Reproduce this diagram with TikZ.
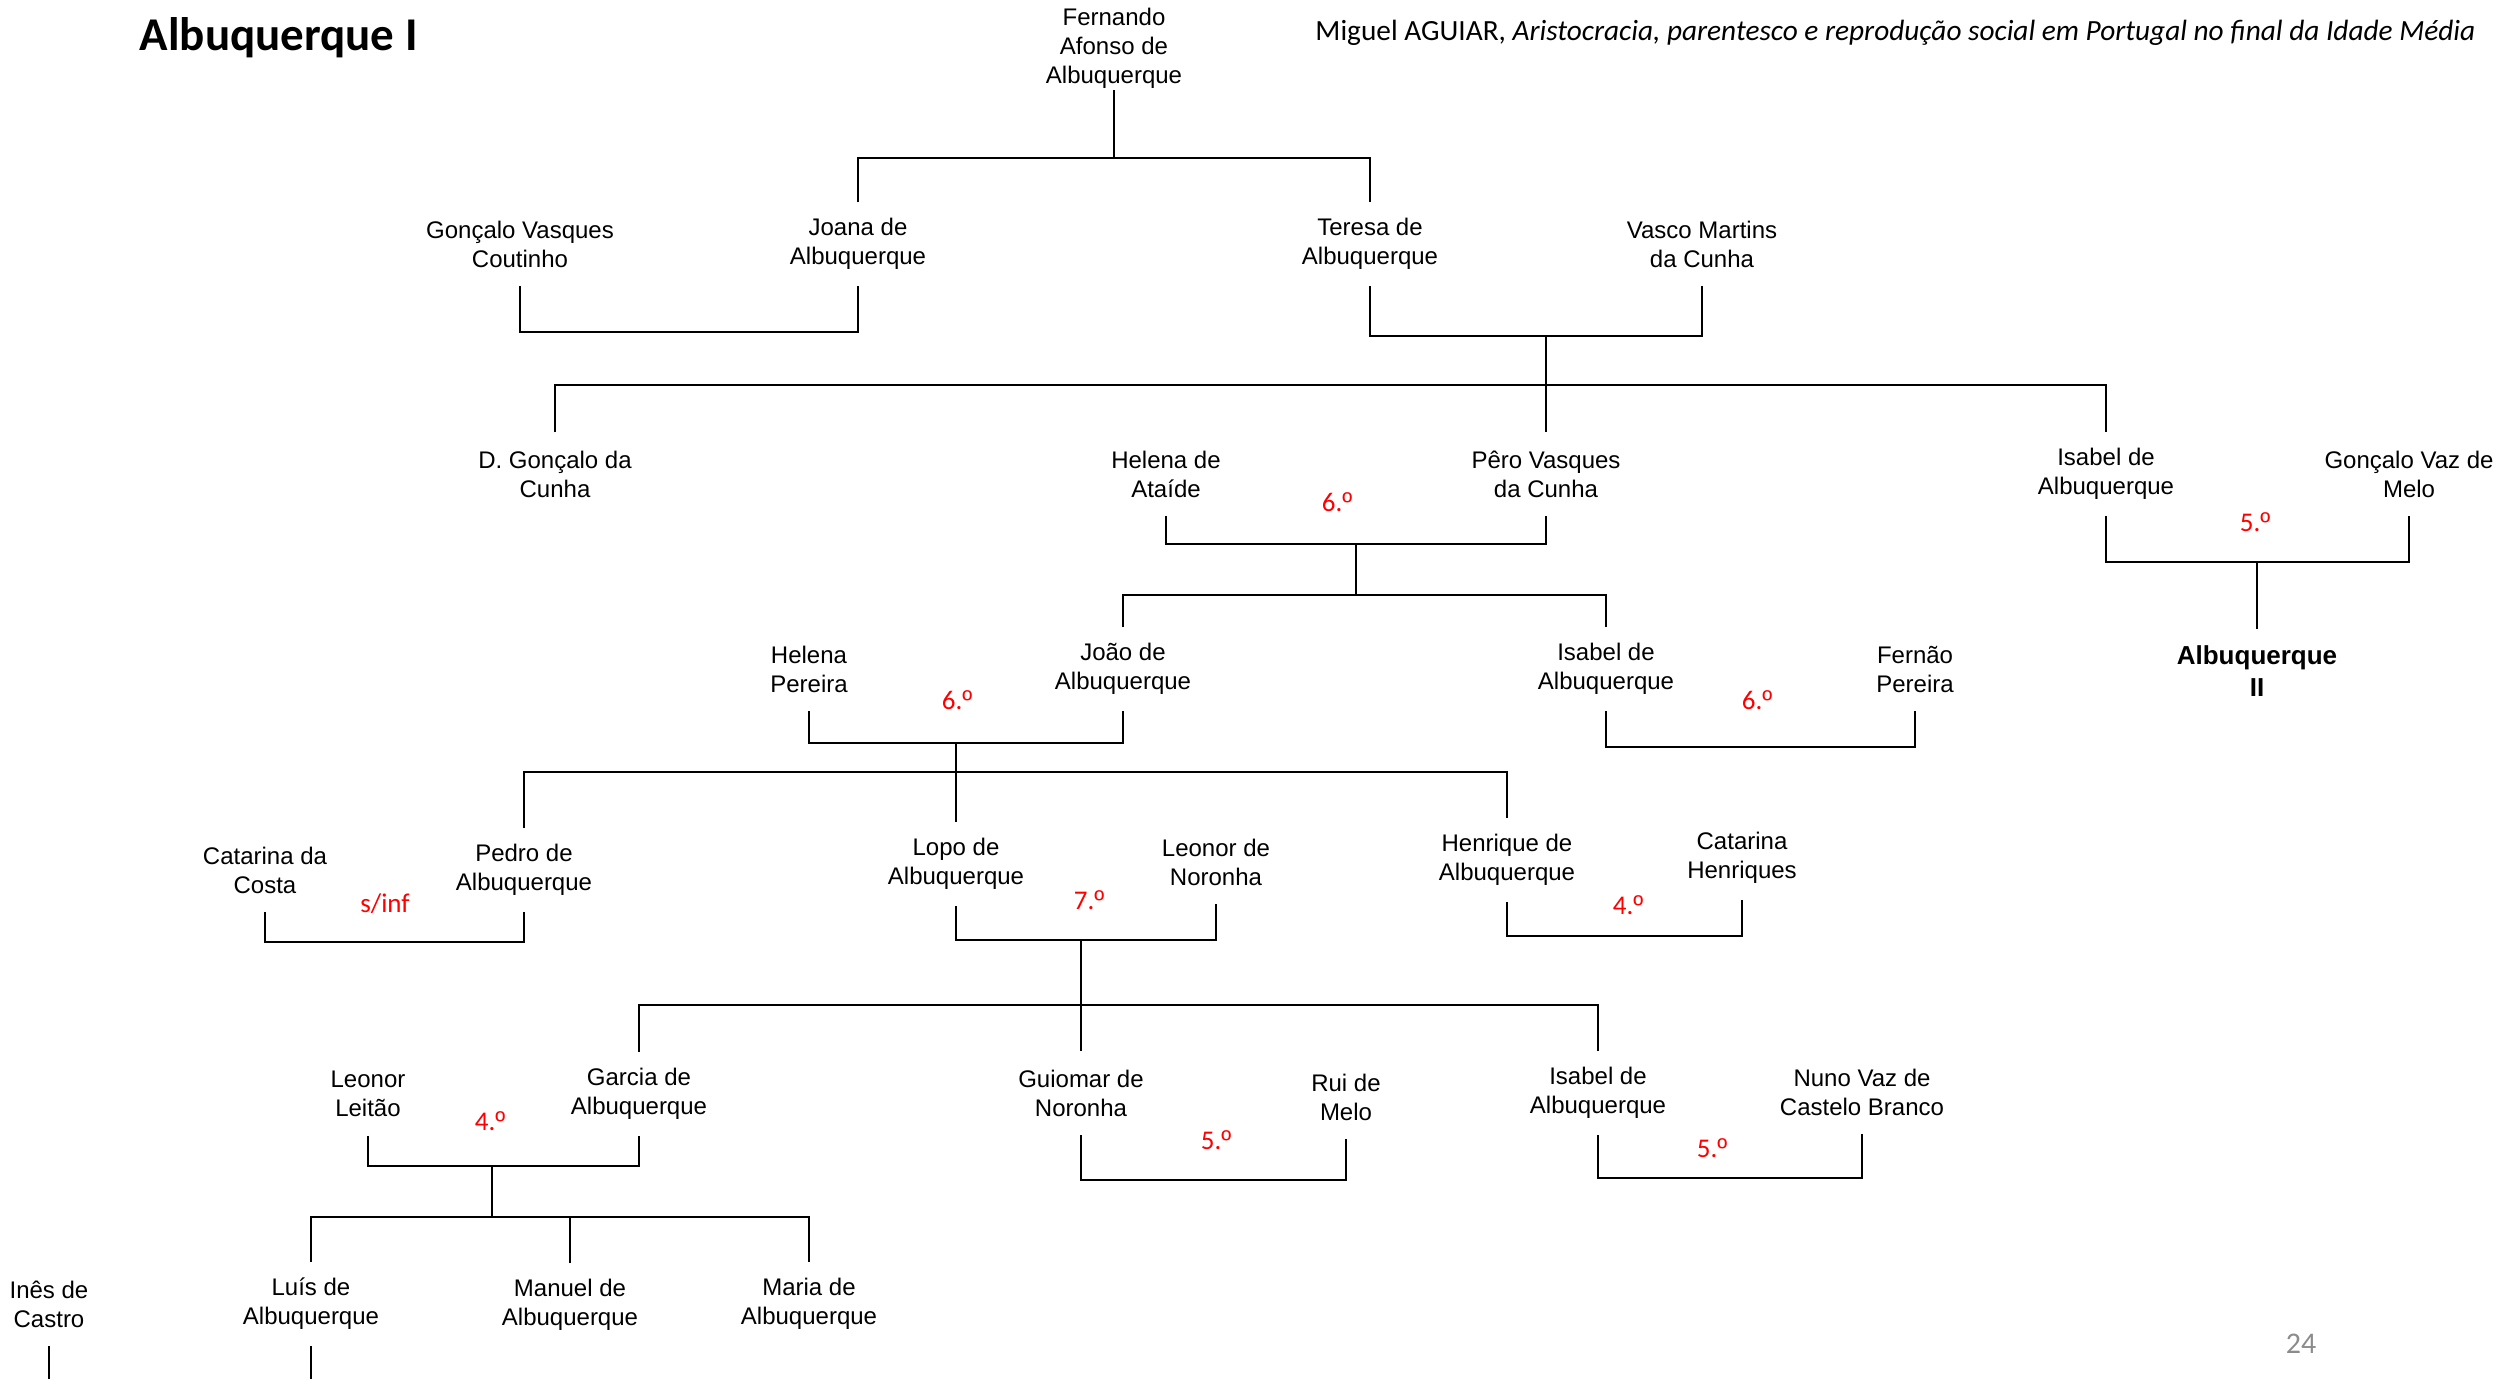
\documentclass[tikz,border=0pt]{standalone}
\usepackage{fontspec}
\setmainfont{Liberation Sans}
\newfontfamily\calibri{Carlito}
\newcommand\rankord{{\rmfamily º}}
\definecolor{pagegray}{RGB}{140,140,140}
\tikzset{
  person/.style={align=center,inner sep=0pt,minimum height=82pt,font=\fontsize{24}{29}\selectfont},
  rank/.style={inner sep=0pt,text=red,font=\calibri\fontsize{27}{32}\selectfont},
}
\begin{document}
\begin{tikzpicture}[x=1pt,y=-1pt,line width=1.5pt]
  \useasboundingbox (0,0) rectangle (2506,1379);
  \node[anchor=base west,inner sep=0pt,font=\calibri\bfseries\fontsize{47}{56}\selectfont] (title) at (139,50) {Albuquerque I};
  \node[anchor=base east,inner sep=0pt,font=\calibri\fontsize{29.3}{35}\selectfont] (source) at (2476,40) {Miguel AGUIAR, \textit{Aristocracia, parentesco e reprodução social em Portugal no final da Idade Média}};
  \node[inner sep=0pt,text=pagegray,font=\calibri\fontsize{30}{36}\selectfont] (page) at (2301,1344) {24};
  % generation 0 and 1
  \node[person] (fernando) at (1114,48) {Fernando\\Afonso de\\Albuquerque};
  \node[person] (goncalovc) at (520,244) {Gonçalo Vasques\\Coutinho};
  \node[person] (joana) at (858,244) {Joana de\\Albuquerque};
  \node[person] (teresa) at (1370,244) {Teresa de\\Albuquerque};
  \node[person] (vasco) at (1702,244) {Vasco Martins\\da Cunha};
  % generation 2
  \node[person] (dgoncalo) at (555,474) {D. Gonçalo da\\Cunha};
  \node[person] (helenaat) at (1166,474) {Helena de\\Ataíde};
  \node[person] (pero) at (1546,474) {Pêro Vasques\\da Cunha};
  \node[person] (isabelA) at (2106,474) {Isabel de\\Albuquerque};
  \node[person] (goncalovm) at (2409,474) {Gonçalo Vaz de\\Melo};
  % generation 3
  \node[person] (helenap) at (809,669) {Helena\\Pereira};
  \node[person] (joao) at (1123,669) {João de\\Albuquerque};
  \node[person] (isabelB) at (1606,669) {Isabel de\\Albuquerque};
  \node[person] (fernao) at (1915,669) {Fernão\\Pereira};
  \node[person,font=\bfseries\fontsize{26}{32}\selectfont] (albII) at (2257,671) {Albuquerque\\II};
  % generation 4
  \node[person] (catarinac) at (265,870) {Catarina da\\Costa};
  \node[person] (pedro) at (524,870) {Pedro de\\Albuquerque};
  \node[person] (lopo) at (956,864) {Lopo de\\Albuquerque};
  \node[person] (leonorn) at (1216,862) {Leonor de\\Noronha};
  \node[person] (henrique) at (1507,860) {Henrique de\\Albuquerque};
  \node[person] (catarinah) at (1742,858) {Catarina\\Henriques};
  % generation 5
  \node[person] (leonorl) at (368,1094) {Leonor\\Leitão};
  \node[person] (garcia) at (639,1094) {Garcia de\\Albuquerque};
  \node[person] (guiomar) at (1081,1093) {Guiomar de\\Noronha};
  \node[person] (rui) at (1346,1097) {Rui de\\Melo};
  \node[person] (isabelC) at (1598,1093) {Isabel de\\Albuquerque};
  \node[person] (nuno) at (1862,1092) {Nuno Vaz de\\Castelo Branco};
  % generation 6
  \node[person] (ines) at (49,1304) {Inês de\\Castro};
  \node[person] (luis) at (311,1304) {Luís de\\Albuquerque};
  \node[person] (manuel) at (570,1305) {Manuel de\\Albuquerque};
  \node[person] (maria) at (809,1304) {Maria de\\Albuquerque};
  % marriage ranks
  \node[rank] (r1) at (1337,502) {6.\rankord};
  \node[rank] (r2) at (2255,522) {5.\rankord};
  \node[rank] (r3) at (957,700) {6.\rankord};
  \node[rank] (r4) at (1757,700) {6.\rankord};
  \node[rank] (r5) at (385,904) {s/inf};
  \node[rank] (r6) at (1089,900) {7.\rankord};
  \node[rank] (r7) at (1628,905) {4.\rankord};
  \node[rank] (r8) at (490,1121) {4.\rankord};
  \node[rank] (r9) at (1216,1140) {5.\rankord};
  \node[rank] (r10) at (1712,1148) {5.\rankord};
  % couples and sibling bars
  \coordinate (s0) at (1114,158);
  \draw (fernando.south) -- (s0);
  \draw (joana.north) |- (s0) -| (teresa.north);
  \coordinate (m1) at (689,332);
  \draw (goncalovc.south) |- (m1) -| (joana.south);
  \coordinate (m2) at (1546,336);
  \coordinate (s2) at (1546,385);
  \draw (teresa.south) |- (m2) -| (vasco.south);
  \draw (m2) -- (pero.north);
  \draw (dgoncalo.north) |- (s2) -| (isabelA.north);
  \coordinate (m3) at (1356,544);
  \coordinate (s3) at (1356,595);
  \draw (helenaat.south) |- (m3) -| (pero.south);
  \draw (m3) -- (s3);
  \draw (joao.north) |- (s3) -| (isabelB.north);
  \coordinate (m4) at (2257,562);
  \draw (isabelA.south) |- (m4) -| (goncalovm.south);
  \draw (m4) -- (albII.north);
  \coordinate (m5) at (956,743);
  \coordinate (s5) at (956,772);
  \draw (helenap.south) |- (m5) -| (joao.south);
  \draw (m5) -- (lopo.north);
  \draw (pedro.north) |- (s5) -| (henrique.north);
  \coordinate (m6) at (1760,747);
  \draw (isabelB.south) |- (m6) -| (fernao.south);
  \coordinate (m7) at (395,942);
  \draw (catarinac.south) |- (m7) -| (pedro.south);
  \coordinate (m8) at (1081,940);
  \coordinate (s8) at (1081,1005);
  \draw (lopo.south) |- (m8) -| (leonorn.south);
  \draw (m8) -- (guiomar.north);
  \draw (garcia.north) |- (s8) -| (isabelC.north);
  \coordinate (m9) at (1624,936);
  \draw (henrique.south) |- (m9) -| (catarinah.south);
  \coordinate (m10) at (492,1166);
  \coordinate (s10) at (492,1217);
  \draw (leonorl.south) |- (m10) -| (garcia.south);
  \draw (m10) -- (s10);
  \draw (luis.north) |- (s10) -| (maria.north);
  \draw (manuel.north) -- (manuel.north |- s10);
  \coordinate (m11) at (1213,1180);
  \draw (guiomar.south) |- (m11) -| (rui.south);
  \coordinate (m12) at (1730,1178);
  \draw (isabelC.south) |- (m12) -| (nuno.south);
  \coordinate (bottom) at (0,1379);
  \draw (ines.south) -- (ines.south |- bottom);
  \draw (luis.south) -- (luis.south |- bottom);
\end{tikzpicture}
\end{document}
